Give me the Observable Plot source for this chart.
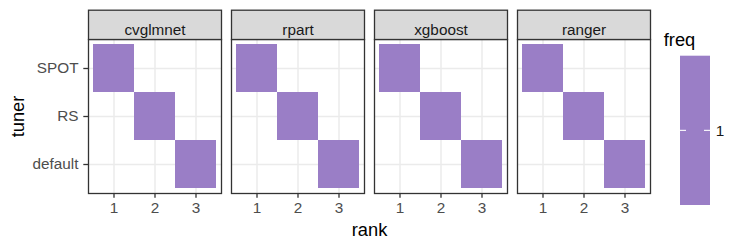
<!DOCTYPE html>
<html>
<head>
<meta charset="utf-8">
<script src="https://cdn.jsdelivr.net/npm/d3@7"></script>
<script src="https://cdn.jsdelivr.net/npm/@observablehq/plot@0.6"></script>
<style>
  html, body { margin: 0; padding: 0; background: #fff; }
  #chart { position: relative; width: 747px; height: 249px; }
</style>
</head>
<body>
<div id="chart"></div>
<script>
// ---- data ----
const algorithms = ["cvglmnet", "rpart", "xgboost", "ranger"];
const tuners = ["SPOT", "RS", "default"];
const ranks = [1, 2, 3];
// rank reached by each tuner, per algorithm (same order as algorithms)
const spotRank = [1, 1, 1, 1];
const rsRank = [2, 2, 2, 2];
const defaultRank = [3, 3, 3, 3];
// frequency of that rank
const spotFreq = [1, 1, 1, 1];
const rsFreq = [1, 1, 1, 1];
const defaultFreq = [1, 1, 1, 1];
const legendTicks = [1];

const tileColor = "#9a7ec6";
const font = "'Liberation Sans', Arial, Helvetica, sans-serif";
const small = 15.3, big = 18.3;

const rows = [];
algorithms.forEach((a, i) => {
  rows.push({algorithm: a, tuner: "SPOT", rank: spotRank[i], freq: spotFreq[i]});
  rows.push({algorithm: a, tuner: "RS", rank: rsRank[i], freq: rsFreq[i]});
  rows.push({algorithm: a, tuner: "default", rank: defaultRank[i], freq: defaultFreq[i]});
});

const marginTop = 39, marginBottom = 56, H = 249;
const panelH = H - marginTop - marginBottom;

const plot = Plot.plot({
  width: 747,
  height: H,
  marginLeft: 87,
  marginRight: 95.3,
  marginTop,
  marginBottom,
  style: {fontFamily: font, fontSize: small + "px", background: "#fff", overflow: "visible"},
  fx: {domain: algorithms, paddingInner: 0.07, paddingOuter: 0, axis: null, label: null},
  x: {type: "band", domain: ranks, padding: 0, inset: 4.2, label: null},
  y: {type: "band", domain: tuners, padding: 0, inset: 4.5, label: null},
  color: {type: "ordinal", domain: legendTicks, range: [tileColor]},
  marks: [
    Plot.gridX({stroke: "#ebebeb", strokeOpacity: 1, strokeWidth: 1.5}),
    Plot.gridY({stroke: "#ebebeb", strokeOpacity: 1, strokeWidth: 1.5}),
    Plot.cell(rows, {fx: "algorithm", x: "rank", y: "tuner", fill: "freq", inset: 0}),
    Plot.frame({stroke: "#333", strokeWidth: 1.3}),
    Plot.frame({fill: "#d9d9d9", stroke: "#333", strokeWidth: 1.3, insetTop: -29.3, insetBottom: panelH}),
    Plot.text(algorithms, {fx: d => d, text: d => d, frameAnchor: "top", dy: -15, fontSize: small, fill: "#1a1a1a"}),
    Plot.axisX({tickSize: 4.7, text: null, stroke: "#333", strokeWidth: 1.3, label: null}),
    Plot.axisX({tickSize: 0, tickPadding: 9, fill: "#4d4d4d", fontSize: small, label: null}),
    Plot.axisY({tickSize: 4.7, text: null, stroke: "#333", strokeWidth: 1.3, label: null}),
    Plot.axisY({tickSize: 0, tickPadding: 10, fill: "#4d4d4d", fontSize: small, label: null}),
    Plot.axisY({tickSize: 0, text: null, label: "tuner", labelAnchor: "center", labelOffset: 78, labelArrow: "none", fontSize: big, fill: "#000"}),
    Plot.axisFx({anchor: "bottom", tickSize: 0, text: null, label: "rank", labelAnchor: "center", labelOffset: 42, labelArrow: "none", fontSize: big, fill: "#000"})
  ]
});

document.getElementById("chart").appendChild(plot);

// ---- vertical colourbar legend ----
const svg = d3.select(plot);
const color = plot.scale("color");
const lg = svg.append("g").attr("font-family", font);
lg.append("text").attr("x", 679.5).attr("y", 46).attr("font-size", big).attr("fill", "#000").text("freq");
const barTop = 55.7, barBottom = 205, barX = 680, barW = 30;
const ly = d3.scalePoint().domain(legendTicks).range([barTop, barBottom]).padding(0.5);
lg.append("rect").attr("x", barX).attr("y", barTop).attr("width", barW).attr("height", barBottom - barTop)
  .attr("fill", color.range[0]);
legendTicks.forEach(t => {
  const y = ly(t);
  lg.append("line").attr("x1", barX).attr("x2", barX + 6).attr("y1", y).attr("y2", y).attr("stroke", "#fff").attr("stroke-width", 1.1);
  lg.append("line").attr("x1", barX + barW - 6).attr("x2", barX + barW).attr("y1", y).attr("y2", y).attr("stroke", "#fff").attr("stroke-width", 1.1);
  lg.append("text").attr("x", barX + barW + 10).attr("y", y).attr("dy", "0.35em").attr("font-size", small).attr("fill", "#1a1a1a").text(t);
});
</script>
</body>
</html>
